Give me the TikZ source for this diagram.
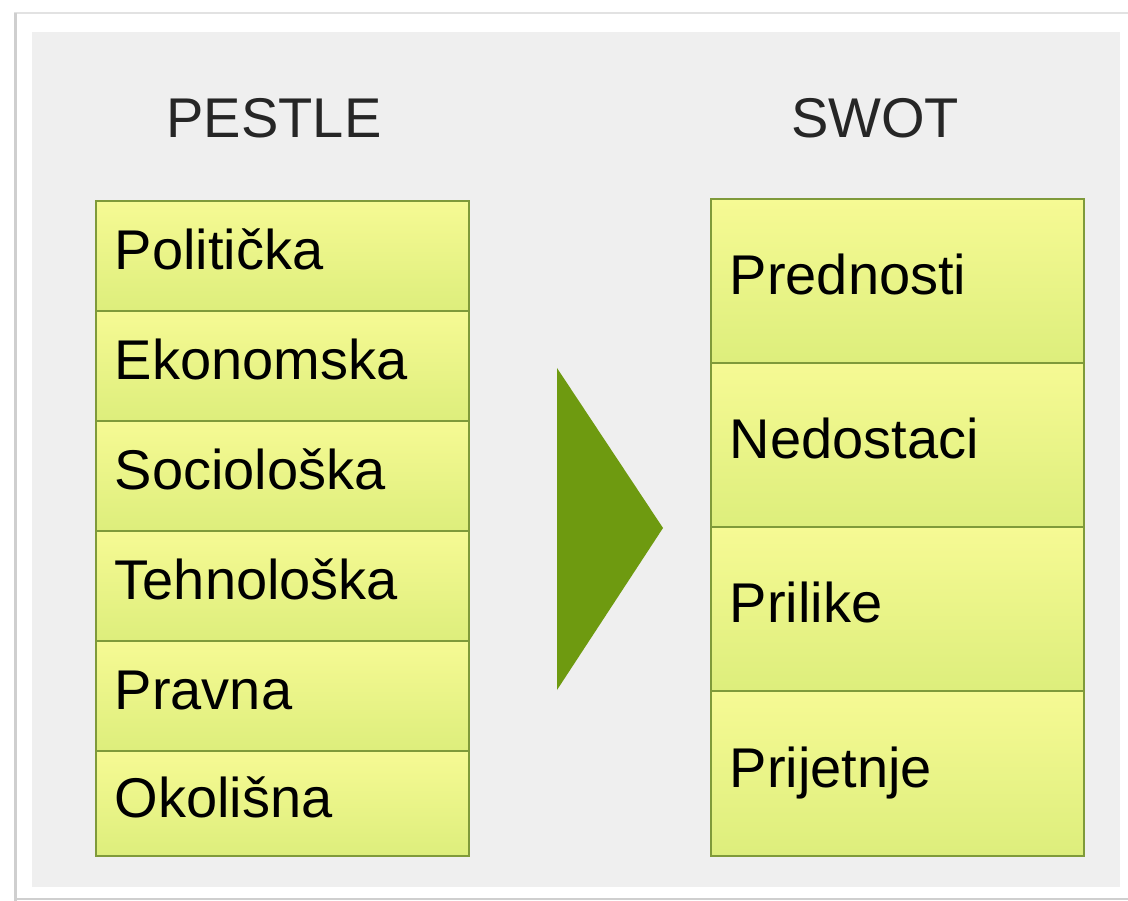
\documentclass[tikz,border=0pt]{standalone}
\usepackage{fontspec}
\setmainfont{Liberation Sans}
\definecolor{panel}{HTML}{EFEFEF}
\definecolor{boxtop}{HTML}{F6FA94}
\definecolor{boxbot}{HTML}{DDEE7C}
\definecolor{boxline}{HTML}{7F9A3A}
\definecolor{tri}{HTML}{6E9A10}
\definecolor{frame}{HTML}{CFCFCF}
\tikzset{
  cell/.style={draw=boxline, line width=1.6pt, top color=boxtop, bottom color=boxbot,
    shading angle=0, minimum width=373pt, text width=335pt, inner xsep=19pt, inner ysep=0pt,
    align=left, text height=40pt, text depth=12pt,
    font=\fontsize{56}{62}\selectfont, anchor=north west},
  head/.style={font=\fontsize{56}{62}\selectfont, text=black!85}
}
\begin{document}
\begin{tikzpicture}[x=1pt,y=-1pt]
\useasboundingbox (0,0) rectangle (1128,901);
\fill[white] (0,0) rectangle (1128,901);
\draw[frame!60, line width=2pt] (14,13) -- (1128,13);
\draw[frame, line width=3pt] (15,13) -- (15,901);
\draw[frame, line width=2.5pt] (14,899) -- (1128,899);
\fill[panel] (32,32) rectangle (1120,887);
\node[head] (pestle) at (274,118) {PESTLE};
\node[head] (swot) at (875,118) {SWOT};
% PESTLE cells
\node[cell, minimum height=110pt] (p1) at (95,200) {Politička};
\node[cell, minimum height=110pt] (p2) at (95,310) {Ekonomska};
\node[cell, minimum height=110pt] (p3) at (95,420) {Sociološka};
\node[cell, minimum height=110pt] (p4) at (95,530) {Tehnološka};
\node[cell, minimum height=110pt] (p5) at (95,640) {Pravna};
\node[cell, minimum height=105pt] (p6) at (95,750) {Okolišna};
% SWOT cells
\node[cell, minimum height=164pt] (s1) at (710,198) {Prednosti};
\node[cell, minimum height=164pt] (s2) at (710,362) {Nedostaci};
\node[cell, minimum height=164pt] (s3) at (710,526) {Prilike};
\node[cell, minimum height=165pt] (s4) at (710,690) {Prijetnje};
% arrow triangle
\fill[tri] (557,368) -- (663,528) -- (557,690) -- cycle;
\end{tikzpicture}
\end{document}
